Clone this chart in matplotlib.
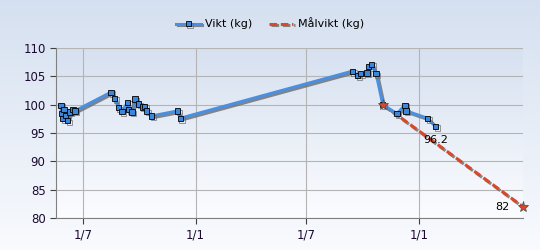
import numpy as np
import pandas as pd
import matplotlib
matplotlib.use("Agg")
import matplotlib.pyplot as plt
import matplotlib.dates as mdates
import matplotlib.patheffects as pe

# weight log
vikt_datum = ["2009-05-26", "2009-05-27", "2009-05-29", "2009-05-31", "2009-06-02",
              "2009-06-06", "2009-06-10", "2009-06-15", "2009-06-18", "2009-08-16",
              "2009-08-22", "2009-08-28", "2009-09-03", "2009-09-12", "2009-09-14",
              "2009-09-19", "2009-09-24", "2009-09-30", "2009-10-06", "2009-10-10",
              "2009-10-13", "2009-10-21", "2009-12-03", "2009-12-07", "2010-09-14",
              "2010-09-23", "2010-09-28", "2010-10-08", "2010-10-11", "2010-10-16",
              "2010-10-23", "2010-11-03", "2010-11-26", "2010-12-09", "2010-12-11",
              "2011-01-15", "2011-01-28"]
vikt = [99.9, 98.4, 97.5, 99.1, 98.1, 97.2, 98.7, 99.1, 98.9, 102.2,
        101.1, 99.5, 98.8, 100.4, 99.2, 98.7, 101.0, 100.1, 99.6, 99.7,
        98.9, 98.0, 98.9, 97.6, 105.9, 105.1, 105.5, 105.6, 106.7, 107.1,
        105.5, 100.0, 98.4, 99.9, 98.9, 97.6, 96.2]

# goal line
mal_datum = ["2010-11-03", "2011-06-20"]
malvikt = [100.0, 82.0]

vx = pd.to_datetime(vikt_datum)
mx = pd.to_datetime(mal_datum)

fig = plt.figure(figsize=(5.4, 2.5), dpi=100)

# background gradient
bg = fig.add_axes([0, 0, 1, 1], zorder=-10)
grad = np.linspace(0, 1, 256).reshape(-1, 1)
top = np.array([0.835, 0.878, 0.941])
bot = np.array([0.975, 0.982, 0.995])
img = top + (bot - top) * grad[:, :, None]
bg.imshow(img, aspect="auto", extent=[0, 1, 0, 1])
bg.axis("off")

ax = fig.add_axes([56 / 540, 32 / 250, 467 / 540, 170 / 250])
ax.set_facecolor("none")
top2 = np.array([0.84, 0.88, 0.94])
bot2 = np.array([0.985, 0.99, 1.0])
img2 = top2 + (bot2 - top2) * grad[:, :, None]
ax.imshow(img2, aspect="auto", extent=[0, 1, 0, 1], transform=ax.transAxes, zorder=0)

shadow = [pe.SimpleLineShadow(offset=(1.2, -1.2), shadow_color="#6a6a6a", alpha=0.8), pe.Normal()]

ax.plot(mx, malvikt, color="#d9482b", lw=2.2, ls=(0, (2.5, 1.2)), zorder=3,
        path_effects=shadow, label="Målvikt (kg)")
ax.plot(vx, vikt, color="#4a8fe0", lw=2.2, zorder=4, path_effects=shadow,
        marker="s", ms=3.8, mfc="#3c86dc", mec="black", mew=0.6, label="Vikt (kg)")
ax.plot(mx, malvikt, ls="none", marker="*", ms=8, mfc="#d9482b", mec="#555555",
        mew=0.6, zorder=5, clip_on=False)

ax.annotate(f"{vikt[-1]:.1f}", (vx[-1], vikt[-1]), xytext=(0, -10),
            textcoords="offset points", fontsize=8, ha="center", va="center", zorder=6)
ax.annotate(f"{malvikt[-1]:.0f}", (mx[-1], malvikt[-1]), xytext=(-15, 0),
            textcoords="offset points", fontsize=8, ha="center", va="center", zorder=6)

ax.set_xlim(pd.Timestamp("2009-05-18"), pd.Timestamp("2011-06-20"))
ax.set_ylim(80, 110)
ax.set_yticks(range(80, 111, 5))
ax.xaxis.set_major_locator(mdates.MonthLocator(bymonth=[1, 7]))
ax.xaxis.set_major_formatter(mdates.DateFormatter("1/%-m"))
ax.grid(True, color="#b4b4b4", lw=0.8, zorder=1)
ax.set_axisbelow(True)
for s in ["top", "right"]:
    ax.spines[s].set_visible(False)
for s in ["left", "bottom"]:
    ax.spines[s].set_color("#808080")
ax.tick_params(labelsize=8.5, length=4, color="#404040", labelcolor="#1a0a30")

h, l = ax.get_legend_handles_labels()
fig.legend(h[::-1], l[::-1], loc="upper center", bbox_to_anchor=(0.5, 0.97), ncol=2,
           frameon=False, fontsize=8, handlelength=2.2, columnspacing=1.5, handletextpad=0.4)

fig.savefig("out.png", dpi=100)
